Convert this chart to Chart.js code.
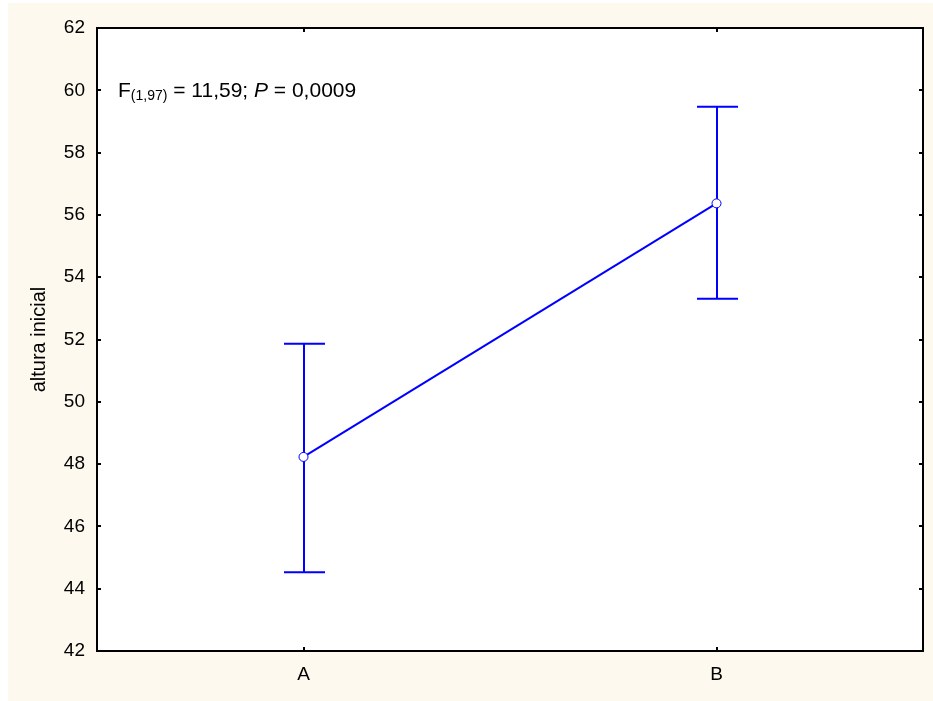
<!DOCTYPE html>
<html>
<head>
<meta charset="utf-8">
<script src="https://cdn.jsdelivr.net/npm/chart.js@4/dist/chart.umd.min.js"></script>
<style>
  html, body { margin: 0; padding: 0; background: #fff; }
  #wrap { width: 933px; height: 701px; }
</style>
</head>
<body>
<div id="wrap"><canvas id="c" width="933" height="701"></canvas></div>
<script>
// Group means with their interval limits
const groups = ['A', 'B'];
const means  = [48.23, 56.37];
const lower  = [44.53, 53.31];
const upper  = [51.86, 59.47];
const yMin = 42, yMax = 62, yStep = 2;

const FONT = "'Liberation Sans', Arial, sans-serif";
const BLUE = '#0000ff';
const CREAM = '#fef9ee';

// page background: thin white margin, cream panel
const panelBg = {
  id: 'panelBg',
  beforeDraw(chart) {
    const { ctx, width, height } = chart;
    ctx.save();
    ctx.fillStyle = '#fff';
    ctx.fillRect(0, 0, width, height);
    ctx.fillStyle = CREAM;
    ctx.fillRect(8, 3, width - 8, height - 3);
    const a = chart.chartArea;
    ctx.fillStyle = '#fff';
    ctx.fillRect(a.left, a.top, a.right - a.left, a.bottom - a.top);
    ctx.restore();
  }
};

// vertical whiskers with flat caps, drawn under the points
const whiskers = {
  id: 'whiskers',
  beforeDatasetsDraw(chart) {
    const { ctx } = chart;
    const xs = chart.scales.x, ys = chart.scales.y;
    ctx.save();
    ctx.strokeStyle = BLUE;
    ctx.lineWidth = 2;
    groups.forEach((g, i) => {
      const x = Math.round(xs.getPixelForValue(i));
      const yl = ys.getPixelForValue(lower[i]);
      const yu = ys.getPixelForValue(upper[i]);
      ctx.beginPath();
      ctx.moveTo(x, yl); ctx.lineTo(x, yu);
      ctx.moveTo(x - 20, yu); ctx.lineTo(x + 21, yu);
      ctx.moveTo(x - 20, yl); ctx.lineTo(x + 21, yl);
      ctx.stroke();
    });
    ctx.restore();
  }
};

// frame, inward ticks on all four sides, and the test statistic text
const frame = {
  id: 'frame',
  afterDraw(chart) {
    const { ctx } = chart;
    const a = chart.chartArea;
    const xs = chart.scales.x, ys = chart.scales.y;
    ctx.save();
    ctx.strokeStyle = '#000';
    ctx.lineWidth = 2;
    ctx.beginPath();
    for (let v = yMin; v <= yMax; v += yStep) {
      const y = Math.round(ys.getPixelForValue(v));
      ctx.moveTo(a.left, y); ctx.lineTo(a.left + 4, y);
      ctx.moveTo(a.right, y); ctx.lineTo(a.right - 4, y);
    }
    groups.forEach((g, i) => {
      const x = Math.round(xs.getPixelForValue(i));
      ctx.moveTo(x, a.top); ctx.lineTo(x, a.top + 4);
      ctx.moveTo(x, a.bottom); ctx.lineTo(x, a.bottom - 4);
    });
    ctx.stroke();
    ctx.strokeRect(a.left, a.top, a.right - a.left, a.bottom - a.top);

    // F(1,97) = 11,59; P = 0,0009
    ctx.fillStyle = '#000';
    ctx.textBaseline = 'alphabetic';
    let x = 118;
    const base = 97;
    const parts = [
      { t: 'F', f: '21px ' + FONT, dy: 0 },
      { t: '(1,97)', f: '14px ' + FONT, dy: 3 },
      { t: ' = 11,59; ', f: '21px ' + FONT, dy: 0 },
      { t: 'P', f: 'italic 21px ' + FONT, dy: 0 },
      { t: ' = 0,0009', f: '21px ' + FONT, dy: 0 }
    ];
    parts.forEach(p => {
      ctx.font = p.f;
      ctx.fillText(p.t, x, base + p.dy);
      x += ctx.measureText(p.t).width;
    });
    ctx.restore();
  }
};

new Chart(document.getElementById('c'), {
  type: 'line',
  data: {
    labels: groups,
    datasets: [{
      data: means,
      borderColor: BLUE,
      borderWidth: 2,
      tension: 0,
      pointRadius: 4.5,
      pointBorderWidth: 1,
      pointBorderColor: BLUE,
      pointBackgroundColor: '#fff'
    }]
  },
  options: {
    responsive: false,
    animation: false,
    layout: { padding: { top: 28, right: 10, left: 0, bottom: 0 } },
    plugins: { legend: { display: false }, tooltip: { enabled: false } },
    scales: {
      x: {
        type: 'category',
        offset: true,
        grid: { display: false, drawTicks: false },
        border: { display: false },
        ticks: { color: '#000', font: { family: FONT, size: 19 }, padding: 12 },
        afterFit(s) { s.height = 50; }
      },
      y: {
        min: yMin,
        max: yMax,
        grid: { display: false, drawTicks: false },
        border: { display: false },
        ticks: { stepSize: yStep, color: '#000', font: { family: FONT, size: 19 }, padding: 12 },
        title: {
          display: true,
          text: 'altura inicial',
          color: '#000',
          font: { family: FONT, size: 20 },
          padding: { top: 27, bottom: 0 }
        },
        afterFit(s) { s.width = 97; }
      }
    }
  },
  plugins: [panelBg, whiskers, frame]
});
</script>
</body>
</html>
